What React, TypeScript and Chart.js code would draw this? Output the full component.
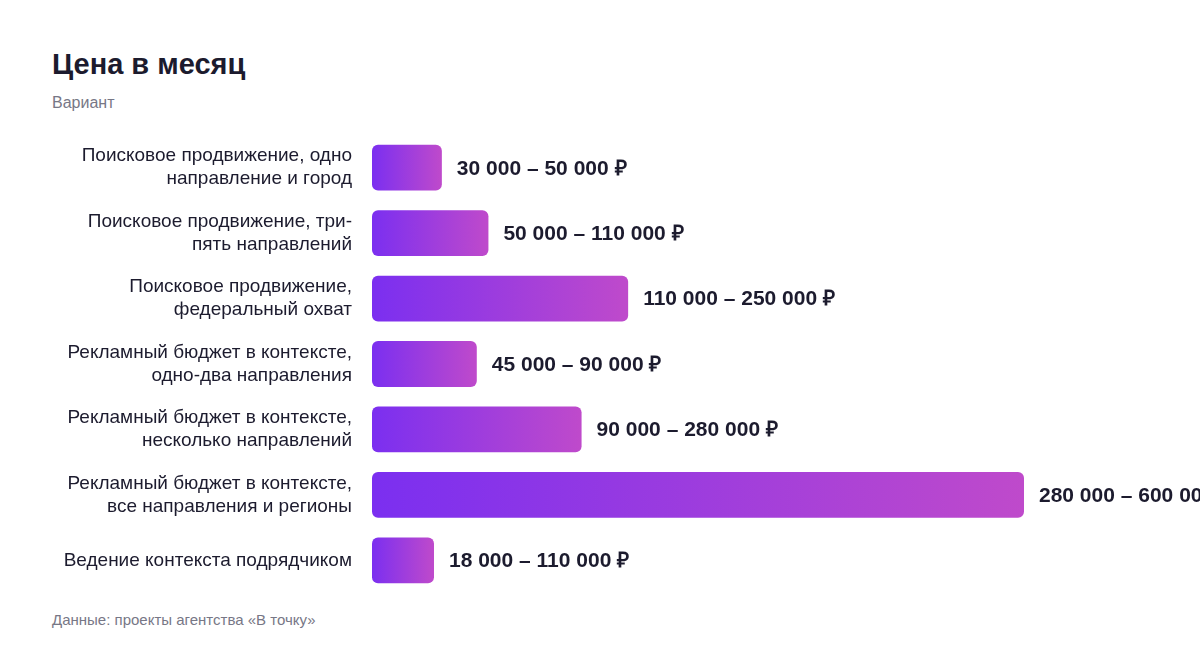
import { useEffect, useRef } from "react";
import { Chart, registerables } from "chart.js";

Chart.register(...registerables);

const categories = [
  ["Поисковое продвижение, одно", "направление и город"],
  ["Поисковое продвижение, три-", "пять направлений"],
  ["Поисковое продвижение,", "федеральный охват"],
  ["Рекламный бюджет в контексте,", "одно-два направления"],
  ["Рекламный бюджет в контексте,", "несколько направлений"],
  ["Рекламный бюджет в контексте,", "все направления и регионы"],
  ["Ведение контекста подрядчиком"],
];

const priceFrom = [30000, 50000, 110000, 45000, 90000, 280000, 18000];
const priceTo = [50000, 110000, 250000, 90000, 280000, 600000, 110000];

const fmt = (n: number) => String(n).replace(/\B(?=(\d{3})+(?!\d))/g, " ");
const valueLabels = priceFrom.map((v, i) => `${fmt(v)} – ${fmt(priceTo[i])} ₽`);

const MIN_BAR = 62;
const DARK = "#1c1b2e";
const FONT = "'Liberation Sans', Arial, sans-serif";

const valueLabelPlugin = {
  id: "valueLabels",
  afterDatasetsDraw(chart: any) {
    const { ctx } = chart;
    const meta = chart.getDatasetMeta(0);
    ctx.save();
    ctx.font = `bold 21px ${FONT}`;
    ctx.fillStyle = DARK;
    ctx.textAlign = "left";
    ctx.textBaseline = "middle";
    meta.data.forEach((bar: any, i: number) => {
      ctx.fillText(valueLabels[i], bar.x + 15, bar.y + 1);
    });
    ctx.restore();
  },
};

function PriceChart() {
  const canvasRef = useRef<HTMLCanvasElement>(null);

  useEffect(() => {
    if (!canvasRef.current) return;

    const chart = new Chart(canvasRef.current, {
      type: "bar",
      data: {
        labels: categories,
        datasets: [
          {
            data: priceFrom,
            minBarLength: MIN_BAR,
            borderRadius: 6,
            borderSkipped: false,
            barPercentage: 0.7,
            categoryPercentage: 1,
            backgroundColor: (c: any) => {
              const x = c.chart.scales?.x;
              if (!x || c.dataIndex === undefined) return "#8a35e6";
              const x0 = x.getPixelForValue(0);
              const x1 = Math.max(x.getPixelForValue(priceFrom[c.dataIndex]), x0 + MIN_BAR);
              if (!Number.isFinite(x0) || !Number.isFinite(x1)) return "#8a35e6";
              const g = c.chart.ctx.createLinearGradient(x0, 0, x1, 0);
              g.addColorStop(0, "#7b2ff0");
              g.addColorStop(1, "#bf4acb");
              return g;
            },
          },
        ],
      },
      options: {
        indexAxis: "y",
        animation: false,
        responsive: false,
        maintainAspectRatio: false,
        layout: { padding: { left: 0, right: 13, top: 0, bottom: 0 } },
        plugins: {
          legend: { display: false },
          tooltip: { enabled: false },
        },
        scales: {
          x: {
            display: false,
            min: 0,
            max: 350000,
          },
          y: {
            border: { display: false },
            grid: { display: false, drawTicks: false },
            afterFit: (scale: any) => {
              scale.width = 372;
              scale.paddingTop = 0;
              scale.paddingBottom = 0;
            },
            ticks: {
              padding: 20,
              color: DARK,
              font: { family: FONT, size: 19, lineHeight: 1.21 },
            },
          },
        },
      },
      plugins: [valueLabelPlugin],
    });

    return () => {
      chart.destroy();
    };
  }, [canvasRef]);

  return <canvas ref={canvasRef} width={1200} height={458} style={{ position: "absolute", left: 0, top: 135 }}></canvas>;
}

export default function App() {
  return (
    <div
      style={{
        position: "relative",
        width: 1200,
        height: 648,
        background: "#fff",
        fontFamily: FONT,
        overflow: "hidden",
      }}
    >
      <style>{`body{margin:0}`}</style>
      <div style={{ position: "absolute", left: 52, top: 48, fontSize: 29, fontWeight: 700, color: DARK }}>
        Цена в месяц
      </div>
      <div style={{ position: "absolute", left: 52, top: 94, fontSize: 16, color: "#777786" }}>Вариант</div>
      <PriceChart />
      <div style={{ position: "absolute", left: 52, top: 611, fontSize: 15, color: "#777786" }}>
        Данные: проекты агентства «В точку»
      </div>
    </div>
  );
}
